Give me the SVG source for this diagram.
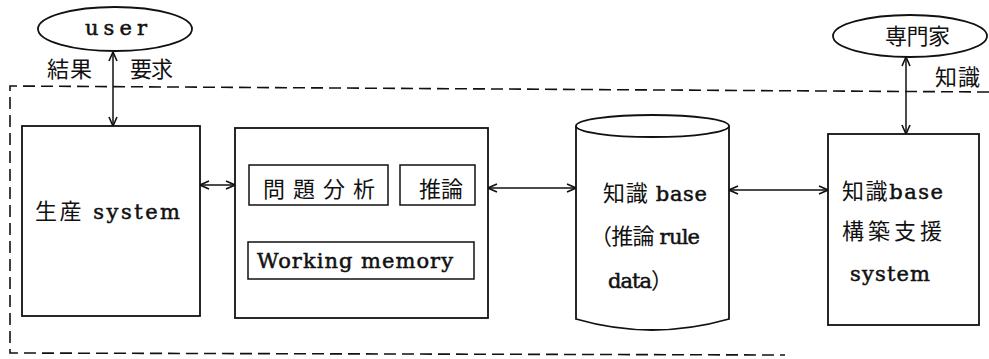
<svg xmlns="http://www.w3.org/2000/svg" width="989" height="359" viewBox="0 0 989 359">
<style>
.box{fill:#fff;stroke:#111;stroke-width:1.8}
.inner{fill:none;stroke:#111;stroke-width:1.5}
.conn{fill:none;stroke:#111;stroke-width:1.5}
.dash{fill:none;stroke:#111;stroke-width:1.6;stroke-dasharray:12 6}
.t{font-family:"DejaVu Serif","Noto Sans CJK JP",serif;fill:#111;font-size:21px}
.lat{font-family:"DejaVu Serif",serif;stroke:#111;stroke-width:0.5}
.cjk{font-family:"Noto Sans CJK JP",sans-serif;font-size:22px;stroke:none}
</style>
<defs>
<marker id="ah" viewBox="0 0 10 10" refX="10" refY="5" markerWidth="10" markerHeight="10" markerUnits="userSpaceOnUse" orient="auto-start-reverse">
<path d="M1,1 L10,5 L1,9" fill="none" stroke="#111" stroke-width="1.6"/>
</marker>
</defs>
<g id="boundary">
<path class="dash" d="M989,92 L10,86 L10,353 L785,355"/>
</g>
<g id="user">
<ellipse class="box" cx="115" cy="29" rx="77" ry="22"/>
<text class="t lat" x="85" y="35" textLength="62" lengthAdjust="spacing" font-size="19">user</text>
</g>
<g id="expert">
<ellipse class="box" cx="910" cy="36" rx="77" ry="21"/>
<text class="t cjk" x="885" y="44" textLength="65" lengthAdjust="spacing">専門家</text>
</g>
<g id="production">
<rect class="box" x="22" y="126" width="178" height="190"/>
<text class="t" x="35" y="219" textLength="145" lengthAdjust="spacing"><tspan class="cjk">生産</tspan><tspan class="lat"> system</tspan></text>
</g>
<g id="inference">
<rect class="box" x="235" y="128" width="253" height="190"/>
<rect class="inner" x="249" y="165" width="139" height="40"/>
<text class="t cjk" x="263" y="197" textLength="112" lengthAdjust="spacing">問題分析</text>
<rect class="inner" x="400" y="165" width="75" height="40"/>
<text class="t cjk" x="419" y="197" textLength="44" lengthAdjust="spacing">推論</text>
<rect class="inner" x="248" y="242" width="226" height="37"/>
<text class="t lat" x="257" y="268" textLength="196" lengthAdjust="spacing">Working memory</text>
</g>
<g id="knowledgebase">
<path class="box" d="M576,126 L576,319 Q652,341 729,319 L729,126"/>
<ellipse class="box" cx="652.500" cy="126" rx="76.500" ry="11"/>
<text class="t" x="603" y="201" textLength="104" lengthAdjust="spacing"><tspan class="cjk">知識</tspan><tspan class="lat"> base</tspan></text>
<text class="t" x="590" y="244" textLength="110" lengthAdjust="spacing"><tspan class="cjk">（推論</tspan><tspan class="lat"> rule</tspan></text>
<text class="t" x="608" y="288" textLength="65" lengthAdjust="spacing"><tspan class="lat">data</tspan><tspan class="cjk">）</tspan></text>
</g>
<g id="kbsupport">
<rect class="box" x="828" y="134" width="151" height="191"/>
<text class="t" x="842" y="199" textLength="101" lengthAdjust="spacing"><tspan class="cjk">知識</tspan><tspan class="lat">base</tspan></text>
<text class="t cjk" x="842" y="239" textLength="100" lengthAdjust="spacing">構築支援</text>
<text class="t lat" x="850" y="281" textLength="80" lengthAdjust="spacing">system</text>
</g>
<g id="connectors">
<line class="conn" x1="113" y1="52" x2="113" y2="126" marker-start="url(#ah)" marker-end="url(#ah)"/>
<line class="conn" x1="200" y1="185" x2="235" y2="185" marker-start="url(#ah)" marker-end="url(#ah)"/>
<line class="conn" x1="488" y1="188" x2="576" y2="188" marker-start="url(#ah)" marker-end="url(#ah)"/>
<line class="conn" x1="729" y1="190" x2="828" y2="190" marker-start="url(#ah)" marker-end="url(#ah)"/>
<line class="conn" x1="906" y1="57" x2="906" y2="134" marker-start="url(#ah)" marker-end="url(#ah)"/>
<text class="t cjk" x="47" y="77" textLength="45" lengthAdjust="spacing" font-size="21">結果</text>
<text class="t cjk" x="130" y="77" textLength="43" lengthAdjust="spacing" font-size="21">要求</text>
<text class="t cjk" x="935" y="85" textLength="45" lengthAdjust="spacing" font-size="21">知識</text>
</g>
</svg>
